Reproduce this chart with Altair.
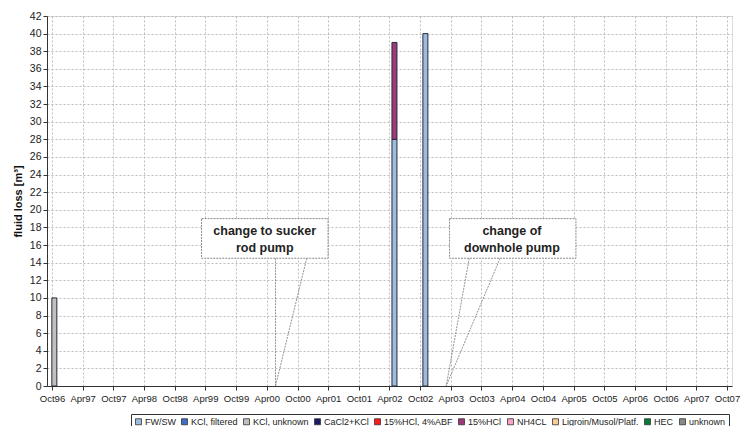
import altair as alt
import pandas as pd

# ---- data ----
fluid_types = ["FW/SW", "KCl, filtered", "KCl, unknown", "CaCl2+KCl", "15%HCl, 4%ABF",
               "15%HCl", "NH4CL", "Ligroin/Musol/Platf.", "HEC", "unknown"]
fluid_colors = ["#9CBCDE", "#3F6FC6", "#C0C0C0", "#1A1A66", "#FF1A1A",
                "#9E3A7A", "#F7A6C8", "#FCCB9A", "#0A7A3A", "#8A8A8A"]

bar_dates = ["1996-10-15", "2002-05-01", "2002-05-01", "2002-11-01"]
bar_fluids = ["KCl, unknown", "FW/SW", "15%HCl", "FW/SW"]
bar_volumes = [10, 28, 11, 40]

tick_years = list(range(1996, 2008))
y_ticks = list(range(0, 43, 2))

callout_text1 = ["change to sucker", "rod pump"]
callout_text2 = ["change of", "downhole pump"]
box_x1 = ["1999-03-10", "2003-03-25"]
box_x2 = ["2001-04-01", "2005-04-15"]
box_y1 = [14.5, 14.5]
box_y2 = [19.0, 19.0]
text_x = ["2000-03-20", "2004-03-30"]
ptr_start_x = ["2000-05-23", "2000-11-25", "2003-07-20", "2004-01-20"]
ptr_end_x = ["2000-05-23", "2000-05-23", "2003-03-05", "2003-03-05"]
ptr_start_y = [14.5, 14.5, 14.5, 14.5]
ptr_end_y = [0, 0, 0, 0]

# ---- tables ----
bars = pd.DataFrame({
    "date": bar_dates,
    "fluid": bar_fluids,
    "volume": bar_volumes,
    "order": [fluid_types.index(f) for f in bar_fluids],
})
boxes = pd.DataFrame({"x1": box_x1, "x2": box_x2, "y1": box_y1, "y2": box_y2})
texts = pd.DataFrame({
    "x": [text_x[0], text_x[0], text_x[1], text_x[1]],
    "y": [17.6, 15.7, 17.6, 15.7],
    "label": callout_text1 + callout_text2,
})
ptrs = pd.DataFrame({"x1": ptr_start_x, "x2": ptr_end_x, "y1": ptr_start_y, "y2": ptr_end_y})

tick_values = []
for yr in tick_years:
    if yr > 1996:
        tick_values.append(alt.DateTime(year=yr, month=4, date=1, utc=True))
    tick_values.append(alt.DateTime(year=yr, month=10, date=1, utc=True))

FONT = "Liberation Sans"

xscale = alt.Scale(type="utc",
                   domain=[alt.DateTime(year=1996, month=10, date=1, utc=True),
                           alt.DateTime(year=2007, month=10, date=1, utc=True)],
                   nice=False)
yscale = alt.Scale(domain=[0, 42], nice=False)

x_axis = alt.Axis(values=tick_values, format="%b%y", labelFontSize=9.5,
                  labelColor="#222", labelOverlap=False, labelFlush=False,
                  grid=True, gridDash=[2, 2], gridColor="#BDBDBD",
                  domainColor="#333", tickColor="#333", tickSize=4,
                  labelPadding=3, title=None)
y_axis = alt.Axis(values=y_ticks, labelFontSize=10.5,
                  labelColor="#222", grid=True, gridDash=[2, 2],
                  gridColor="#BDBDBD", domainColor="#333", tickColor="#333",
                  tickSize=4, titleFontSize=11, titleFontWeight="bold",
                  titleColor="#111", titlePadding=6, title="fluid loss [m³]")

bar_layer = alt.Chart(bars).mark_bar(size=5, stroke="#2a2a3a", strokeWidth=1).encode(
    x=alt.X("date:T", scale=xscale, axis=x_axis),
    y=alt.Y("sum(volume):Q", scale=yscale, stack="zero", axis=y_axis),
    color=alt.Color("fluid:N",
                    scale=alt.Scale(domain=fluid_types, range=fluid_colors),
                    legend=alt.Legend(title=None, orient="none", direction="horizontal",
                                      columns=10, legendX=84, legendY=398,
                                      symbolType="square", symbolSize=36,
                                      symbolStrokeColor="#333", symbolStrokeWidth=0.8,
                                      labelFontSize=9, labelColor="#222",
                                      labelOffset=2, columnPadding=3,
                                      strokeColor="#333", padding=3)),
    order=alt.Order("order:Q"),
)

box_layer = alt.Chart(boxes).mark_rect(fill="white", stroke="#8a8a8a",
                                       strokeDash=[2, 1], strokeWidth=1).encode(
    x=alt.X("x1:T", axis=x_axis), x2="x2:T",
    y=alt.Y("y1:Q", axis=y_axis), y2="y2:Q")

ptr_layer = alt.Chart(ptrs).mark_rule(color="#777", strokeDash=[2, 1], strokeWidth=0.8).encode(
    x=alt.X("x1:T", axis=x_axis), x2="x2:T",
    y=alt.Y("y1:Q", axis=y_axis), y2="y2:Q")

text_layer = alt.Chart(texts).mark_text(font=FONT, fontSize=12.5, fontWeight="bold",
                                        color="#222", align="center",
                                        baseline="middle").encode(
    x=alt.X("x:T", axis=x_axis), y=alt.Y("y:Q", axis=y_axis), text="label:N")

chart = alt.layer(bar_layer, ptr_layer, box_layer, text_layer).properties(
    width=685, height=370,
    autosize=alt.AutoSizeParams(type="none"),
    padding={"left": 39, "top": 8, "right": 14, "bottom": 40},
).configure_view(stroke=None).configure(font=FONT).configure_axis(labelFont=FONT, titleFont=FONT)

chart.save("out.html", embed_options={"renderer": "svg", "actions": False})
